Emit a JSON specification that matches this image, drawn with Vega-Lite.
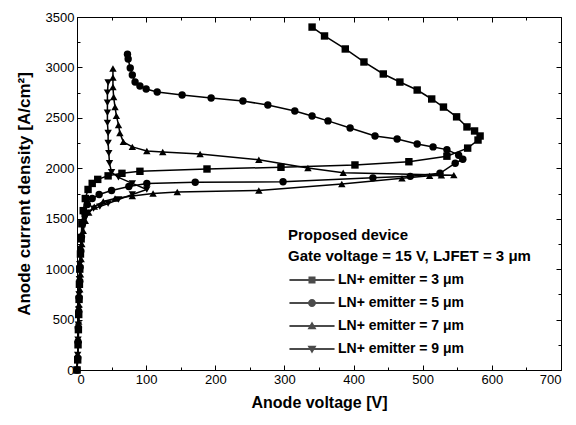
{
  "$schema": "https://vega.github.io/schema/vega-lite/v6.json",
  "width": 484,
  "height": 353,
  "autosize": {"type": "none"},
  "padding": {"left": 77, "top": 17, "right": 15, "bottom": 55},
  "background": "white",
  "config": {
    "view": {"stroke": null},
    "font": "Liberation Sans",
    "axis": {
      "grid": false,
      "domainColor": "black",
      "tickColor": "black",
      "labelColor": "black",
      "titleColor": "black",
      "labelFont": "Liberation Sans",
      "labelFontSize": 13,
      "titleFont": "Liberation Sans",
      "titleFontSize": 16,
      "titleFontWeight": "bold",
      "domainWidth": 1,
      "tickWidth": 1,
      "format": "d"
    }
  },
  "data": {
    "values": [
      {"series": "3", "o": 1, "x": 0, "y": 0},
      {"series": "3", "o": 2, "x": 1, "y": 100},
      {"series": "3", "o": 3, "x": 1.5, "y": 250},
      {"series": "3", "o": 4, "x": 2, "y": 400},
      {"series": "3", "o": 5, "x": 2.5, "y": 550},
      {"series": "3", "o": 6, "x": 3, "y": 700},
      {"series": "3", "o": 7, "x": 3.5, "y": 850},
      {"series": "3", "o": 8, "x": 4, "y": 1000},
      {"series": "3", "o": 9, "x": 5, "y": 1150},
      {"series": "3", "o": 10, "x": 6, "y": 1300},
      {"series": "3", "o": 11, "x": 7, "y": 1450},
      {"series": "3", "o": 12, "x": 9, "y": 1580},
      {"series": "3", "o": 13, "x": 12, "y": 1700},
      {"series": "3", "o": 14, "x": 16, "y": 1790},
      {"series": "3", "o": 15, "x": 22, "y": 1850},
      {"series": "3", "o": 16, "x": 30, "y": 1890},
      {"series": "3", "o": 17, "x": 45, "y": 1925},
      {"series": "3", "o": 18, "x": 65, "y": 1950},
      {"series": "3", "o": 19, "x": 91, "y": 1970},
      {"series": "3", "o": 20, "x": 188, "y": 1993},
      {"series": "3", "o": 21, "x": 295, "y": 2010},
      {"series": "3", "o": 22, "x": 402, "y": 2033},
      {"series": "3", "o": 23, "x": 480, "y": 2065},
      {"series": "3", "o": 24, "x": 535, "y": 2120},
      {"series": "3", "o": 25, "x": 565, "y": 2200},
      {"series": "3", "o": 26, "x": 580, "y": 2280},
      {"series": "3", "o": 27, "x": 583, "y": 2320},
      {"series": "3", "o": 28, "x": 575, "y": 2370},
      {"series": "3", "o": 29, "x": 564, "y": 2410},
      {"series": "3", "o": 30, "x": 549, "y": 2510},
      {"series": "3", "o": 31, "x": 530, "y": 2607},
      {"series": "3", "o": 32, "x": 513, "y": 2687},
      {"series": "3", "o": 33, "x": 492, "y": 2776},
      {"series": "3", "o": 34, "x": 467, "y": 2855},
      {"series": "3", "o": 35, "x": 443, "y": 2935},
      {"series": "3", "o": 36, "x": 415, "y": 3054},
      {"series": "3", "o": 37, "x": 388, "y": 3183},
      {"series": "3", "o": 38, "x": 358, "y": 3312},
      {"series": "3", "o": 39, "x": 340, "y": 3400},

      {"series": "5", "o": 1, "x": 0, "y": 0},
      {"series": "5", "o": 2, "x": 1, "y": 120},
      {"series": "5", "o": 3, "x": 1.5, "y": 280},
      {"series": "5", "o": 4, "x": 2, "y": 420},
      {"series": "5", "o": 5, "x": 2.5, "y": 580},
      {"series": "5", "o": 6, "x": 3, "y": 720},
      {"series": "5", "o": 7, "x": 4, "y": 880},
      {"series": "5", "o": 8, "x": 4.5, "y": 1020},
      {"series": "5", "o": 9, "x": 5.5, "y": 1180},
      {"series": "5", "o": 10, "x": 6.5, "y": 1320},
      {"series": "5", "o": 11, "x": 8, "y": 1450},
      {"series": "5", "o": 12, "x": 11, "y": 1560},
      {"series": "5", "o": 13, "x": 15, "y": 1640},
      {"series": "5", "o": 14, "x": 22, "y": 1700},
      {"series": "5", "o": 15, "x": 32, "y": 1740},
      {"series": "5", "o": 16, "x": 50, "y": 1780},
      {"series": "5", "o": 17, "x": 75, "y": 1820},
      {"series": "5", "o": 18, "x": 101, "y": 1850},
      {"series": "5", "o": 19, "x": 171, "y": 1862},
      {"series": "5", "o": 20, "x": 298, "y": 1866},
      {"series": "5", "o": 21, "x": 428, "y": 1905},
      {"series": "5", "o": 22, "x": 482, "y": 1920},
      {"series": "5", "o": 23, "x": 525, "y": 1950},
      {"series": "5", "o": 24, "x": 547, "y": 2050},
      {"series": "5", "o": 25, "x": 558, "y": 2090},
      {"series": "5", "o": 26, "x": 552, "y": 2130},
      {"series": "5", "o": 27, "x": 535, "y": 2185},
      {"series": "5", "o": 28, "x": 515, "y": 2212},
      {"series": "5", "o": 29, "x": 492, "y": 2241},
      {"series": "5", "o": 30, "x": 463, "y": 2290},
      {"series": "5", "o": 31, "x": 431, "y": 2320},
      {"series": "5", "o": 32, "x": 395, "y": 2400},
      {"series": "5", "o": 33, "x": 363, "y": 2470},
      {"series": "5", "o": 34, "x": 340, "y": 2518},
      {"series": "5", "o": 35, "x": 315, "y": 2568},
      {"series": "5", "o": 36, "x": 276, "y": 2627},
      {"series": "5", "o": 37, "x": 240, "y": 2667},
      {"series": "5", "o": 38, "x": 194, "y": 2697},
      {"series": "5", "o": 39, "x": 152, "y": 2727},
      {"series": "5", "o": 40, "x": 116, "y": 2756},
      {"series": "5", "o": 41, "x": 100, "y": 2786},
      {"series": "5", "o": 42, "x": 91, "y": 2816},
      {"series": "5", "o": 43, "x": 84, "y": 2855},
      {"series": "5", "o": 44, "x": 80, "y": 2925},
      {"series": "5", "o": 45, "x": 77, "y": 2994},
      {"series": "5", "o": 46, "x": 74, "y": 3083},
      {"series": "5", "o": 47, "x": 73, "y": 3130},

      {"series": "7", "o": 1, "x": 0, "y": 0},
      {"series": "7", "o": 2, "x": 1, "y": 150},
      {"series": "7", "o": 3, "x": 2, "y": 300},
      {"series": "7", "o": 4, "x": 2.5, "y": 480},
      {"series": "7", "o": 5, "x": 3, "y": 650},
      {"series": "7", "o": 6, "x": 4, "y": 800},
      {"series": "7", "o": 7, "x": 5, "y": 950},
      {"series": "7", "o": 8, "x": 6, "y": 1100},
      {"series": "7", "o": 9, "x": 7, "y": 1250},
      {"series": "7", "o": 10, "x": 9, "y": 1380},
      {"series": "7", "o": 11, "x": 12, "y": 1480},
      {"series": "7", "o": 12, "x": 17, "y": 1560},
      {"series": "7", "o": 13, "x": 25, "y": 1620},
      {"series": "7", "o": 14, "x": 38, "y": 1670},
      {"series": "7", "o": 15, "x": 55, "y": 1700},
      {"series": "7", "o": 16, "x": 80, "y": 1725},
      {"series": "7", "o": 17, "x": 110, "y": 1750},
      {"series": "7", "o": 18, "x": 145, "y": 1765},
      {"series": "7", "o": 19, "x": 263, "y": 1780},
      {"series": "7", "o": 20, "x": 383, "y": 1845},
      {"series": "7", "o": 21, "x": 470, "y": 1900},
      {"series": "7", "o": 22, "x": 510, "y": 1925},
      {"series": "7", "o": 23, "x": 527, "y": 1930},
      {"series": "7", "o": 24, "x": 545, "y": 1932},
      {"series": "7", "o": 25, "x": 385, "y": 1955},
      {"series": "7", "o": 26, "x": 334, "y": 2003},
      {"series": "7", "o": 27, "x": 263, "y": 2085},
      {"series": "7", "o": 28, "x": 178, "y": 2142},
      {"series": "7", "o": 29, "x": 124, "y": 2162},
      {"series": "7", "o": 30, "x": 101, "y": 2172},
      {"series": "7", "o": 31, "x": 80, "y": 2212},
      {"series": "7", "o": 32, "x": 67, "y": 2262},
      {"series": "7", "o": 33, "x": 62, "y": 2350},
      {"series": "7", "o": 34, "x": 60, "y": 2430},
      {"series": "7", "o": 35, "x": 57, "y": 2520},
      {"series": "7", "o": 36, "x": 55, "y": 2607},
      {"series": "7", "o": 37, "x": 53, "y": 2706},
      {"series": "7", "o": 38, "x": 52, "y": 2806},
      {"series": "7", "o": 39, "x": 52, "y": 2900},
      {"series": "7", "o": 40, "x": 52, "y": 2990},

      {"series": "9", "o": 1, "x": 0, "y": 0},
      {"series": "9", "o": 2, "x": 1, "y": 150},
      {"series": "9", "o": 3, "x": 1.5, "y": 300},
      {"series": "9", "o": 4, "x": 2, "y": 450},
      {"series": "9", "o": 5, "x": 2.5, "y": 600},
      {"series": "9", "o": 6, "x": 3, "y": 750},
      {"series": "9", "o": 7, "x": 3.5, "y": 900},
      {"series": "9", "o": 8, "x": 4, "y": 1050},
      {"series": "9", "o": 9, "x": 5, "y": 1200},
      {"series": "9", "o": 10, "x": 6, "y": 1320},
      {"series": "9", "o": 11, "x": 8, "y": 1420},
      {"series": "9", "o": 12, "x": 11, "y": 1500},
      {"series": "9", "o": 13, "x": 16, "y": 1560},
      {"series": "9", "o": 14, "x": 24, "y": 1600},
      {"series": "9", "o": 15, "x": 33, "y": 1620},
      {"series": "9", "o": 16, "x": 45, "y": 1650},
      {"series": "9", "o": 17, "x": 60, "y": 1690},
      {"series": "9", "o": 18, "x": 80, "y": 1740},
      {"series": "9", "o": 19, "x": 101, "y": 1790},
      {"series": "9", "o": 20, "x": 80, "y": 1850},
      {"series": "9", "o": 21, "x": 60, "y": 1910},
      {"series": "9", "o": 22, "x": 50, "y": 1960},
      {"series": "9", "o": 23, "x": 47, "y": 2050},
      {"series": "9", "o": 24, "x": 46, "y": 2150},
      {"series": "9", "o": 25, "x": 45, "y": 2250},
      {"series": "9", "o": 26, "x": 45, "y": 2350},
      {"series": "9", "o": 27, "x": 44, "y": 2450},
      {"series": "9", "o": 28, "x": 44, "y": 2550},
      {"series": "9", "o": 29, "x": 44, "y": 2650},
      {"series": "9", "o": 30, "x": 44, "y": 2750},
      {"series": "9", "o": 31, "x": 45, "y": 2850}
    ]
  },
  "layer": [
    {
      "mark": {"type": "line", "color": "black", "strokeWidth": 1.5},
      "encoding": {
        "x": {
          "field": "x", "type": "quantitative",
          "scale": {"domain": [0, 700], "nice": false, "zero": false},
          "axis": {"orient": "bottom", "values": [0, 100, 200, 300, 400, 500, 600, 700], "tickSize": -5, "labelPadding": 8, "title": "Anode voltage [V]", "titlePadding": 8}
        },
        "y": {
          "field": "y", "type": "quantitative",
          "scale": {"domain": [0, 3500], "nice": false, "zero": false},
          "axis": {"orient": "left", "values": [0, 500, 1000, 1500, 2000, 2500, 3000, 3500], "tickSize": -5, "labelPadding": 8, "title": "Anode current density [A/cm²]", "titleFontSize": 17, "titlePadding": 12}
        },
        "detail": {"field": "series", "type": "nominal"},
        "order": {"field": "o", "type": "quantitative"}
      }
    },
    {
      "mark": {"type": "point", "filled": true, "color": "black", "size": 55, "opacity": 1},
      "encoding": {
        "x": {
          "field": "x", "type": "quantitative",
          "scale": {"domain": [0, 700], "nice": false, "zero": false},
          "axis": {"orient": "bottom", "values": [50, 150, 250, 350, 450, 550, 650], "tickSize": -3, "labels": false, "domain": false, "title": null}
        },
        "y": {
          "field": "y", "type": "quantitative",
          "scale": {"domain": [0, 3500], "nice": false, "zero": false},
          "axis": {"orient": "left", "values": [250, 750, 1250, 1750, 2250, 2750, 3250], "tickSize": -3, "labels": false, "domain": false, "title": null}
        },
        "shape": {
          "field": "series", "type": "nominal",
          "scale": {"domain": ["3", "5", "7", "9"], "range": ["square", "circle", "triangle-up", "triangle-down"]},
          "legend": null
        }
      }
    },
    {
      "transform": [{"filter": "datum.series == 'none'"}],
      "mark": {"type": "point", "filled": true, "color": "black"},
      "encoding": {
        "x": {
          "field": "x", "type": "quantitative",
          "scale": {"domain": [0, 700], "nice": false, "zero": false},
          "axis": {"orient": "top", "values": [0, 100, 200, 300, 400, 500, 600, 700], "tickSize": -5, "labels": false, "title": null}
        },
        "y": {
          "field": "y", "type": "quantitative",
          "scale": {"domain": [0, 3500], "nice": false, "zero": false},
          "axis": {"orient": "right", "values": [0, 500, 1000, 1500, 2000, 2500, 3000, 3500], "tickSize": -5, "labels": false, "title": null}
        },
        "shape": {
          "field": "series", "type": "nominal",
          "scale": {
            "domain": ["3", "5", "7", "9"],
            "range": [
              "M-2.05,-0.09H2.05V0.09H-2.05ZM-0.32,-0.32H0.32V0.32H-0.32Z",
              "M-2.05,-0.09H2.05V0.09H-2.05ZM0.36,0A0.36,0.36,0,1,1,-0.36,0A0.36,0.36,0,1,1,0.36,0Z",
              "M-2.05,-0.09H2.05V0.09H-2.05ZM0,-0.42L0.41,0.3H-0.41Z",
              "M-2.05,-0.09H2.05V0.09H-2.05ZM0,0.42L-0.41,-0.3H0.41Z"
            ]
          },
          "legend": {
            "orient": "none",
            "legendX": 211,
            "legendY": 211,
            "padding": 0,
            "title": ["Proposed device", "Gate voltage = 15 V, LJFET = 3 μm"],
            "titleFont": "Liberation Sans",
            "titleFontSize": 15,
            "titleFontWeight": "bold",
            "titleColor": "black",
            "titleLineHeight": 21,
            "titlePadding": 4,
            "titleLimit": 400,
            "labelFont": "Liberation Sans",
            "labelFontSize": 14,
            "labelFontWeight": "bold",
            "labelColor": "black",
            "labelLimit": 300,
            "labelExpr": "'LN+ emitter = ' + datum.label + ' μm'",
            "symbolSize": 484,
            "symbolFillColor": "black",
            "symbolOffset": 12,
            "labelOffset": 14,
            "rowPadding": 4
          }
        }
      }
    },
    {
      "transform": [{"filter": "datum.series == 'none'"}],
      "mark": {"type": "point"},
      "encoding": {
        "x": {
          "field": "x", "type": "quantitative",
          "scale": {"domain": [0, 700], "nice": false, "zero": false},
          "axis": {"orient": "top", "values": [50, 150, 250, 350, 450, 550, 650], "tickSize": -3, "labels": false, "domain": false, "title": null}
        },
        "y": {
          "field": "y", "type": "quantitative",
          "scale": {"domain": [0, 3500], "nice": false, "zero": false},
          "axis": {"orient": "right", "values": [250, 750, 1250, 1750, 2250, 2750, 3250], "tickSize": -3, "labels": false, "domain": false, "title": null}
        }
      }
    }
  ],
  "resolve": {
    "scale": {"shape": "independent"},
    "axis": {"x": "independent", "y": "independent"},
    "legend": {"shape": "independent"}
  }
}
